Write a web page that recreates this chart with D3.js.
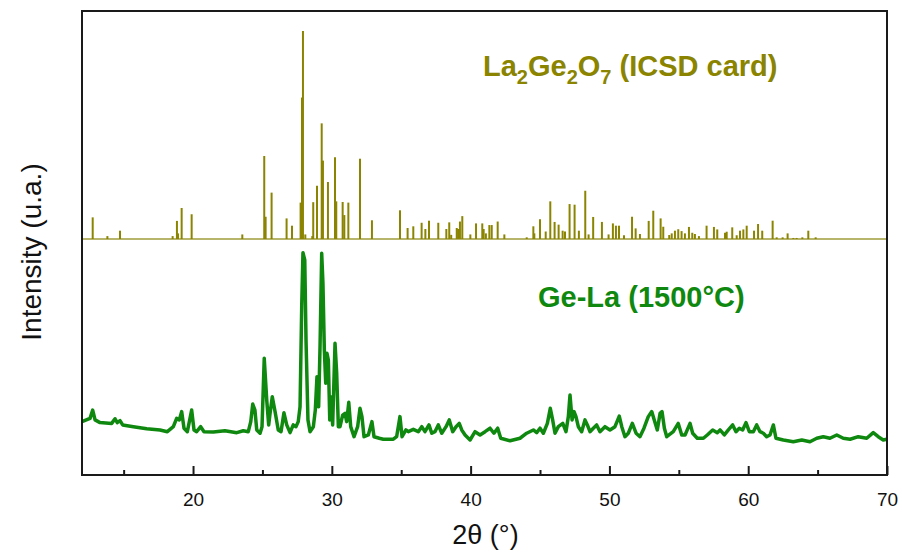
<!DOCTYPE html>
<html>
<head>
<meta charset="utf-8">
<script src="https://cdn.jsdelivr.net/npm/d3@7"></script>
<style>
  html, body { margin: 0; padding: 0; background: #fff; }
  svg { display: block; }
  text { font-family: "Liberation Sans", Arial, sans-serif; }
</style>
</head>
<body>
<svg id="chart" width="902" height="554"></svg>
<script>
// ---- Reference card (La2Ge2O7, ICSD) : 2θ positions and relative intensities (%)
const cardTheta = [12.77, 13.83, 14.74, 18.53, 18.84, 18.92, 19.18, 19.90, 23.55, 25.13, 25.23, 25.66, 26.74, 27.13, 27.75, 27.85, 27.92, 28.09, 28.59, 28.66, 28.93, 29.27, 29.36, 29.72, 30.23, 30.32, 30.78, 30.90, 31.19, 32.03, 32.89,
  34.91, 35.46, 35.87, 36.47, 36.74, 37.00, 37.67, 38.25, 38.46, 38.60, 39.00, 39.10, 39.23, 39.40, 39.98, 40.39, 40.84, 40.94, 41.10, 41.35, 41.52, 41.95, 42.43,
  44.04, 44.52, 44.59, 45.00, 45.41, 45.74, 46.05, 46.34, 46.63, 46.80, 47.13, 47.49, 47.80, 48.26, 48.50, 48.83, 49.46, 49.94, 50.25, 50.47, 50.69,
  51.05, 51.63, 51.89, 52.20, 52.83, 53.16, 53.69, 53.88, 54.31, 54.49, 54.72, 54.96, 55.20, 55.44, 55.73, 55.97, 56.16, 56.45, 57.00, 57.53, 57.77,
  58.33, 58.45, 58.85, 59.17, 59.41, 59.65, 59.89, 60.42, 60.71, 61.01, 61.76, 62.05, 62.48, 62.84, 63.25, 63.49, 63.90, 64.33, 64.86];
const cardInt = [10.4, 1.4, 4.0, 1.4, 8.7, 2.7, 14.9, 11.9, 2.2, 39.9, 10.7, 22.3, 9.9, 6.4, 17.5, 68.0, 100, 2.2, 1.4, 17.7, 25.6, 55.6, 37.7, 27.4, 39.3, 18.1, 17.8, 11.5, 17.5, 38.6, 9.0,
  13.8, 5.3, 6.1, 7.8, 4.8, 8.8, 7.8, 4.8, 8.0, 2.0, 5.3, 4.8, 8.4, 11.0, 2.2, 7.5, 7.5, 4.8, 2.7, 6.7, 6.7, 8.4, 2.2,
  0.8, 6.1, 2.7, 9.5, 3.6, 18.1, 8.2, 6.9, 4.0, 3.6, 16.8, 16.5, 4.0, 23.2, 2.2, 10.6, 8.2, 2.2, 7.5, 6.4, 6.4,
  1.8, 10.7, 5.1, 2.4, 8.7, 13.6, 9.9, 5.9, 1.9, 2.7, 4.0, 4.7, 3.8, 2.7, 5.8, 3.0, 2.4, 1.4, 6.4, 5.8, 4.6,
  3.0, 3.5, 5.6, 1.8, 4.0, 4.6, 6.4, 4.0, 7.2, 4.0, 8.8, 0.8, 0.8, 2.7, 0.5, 0.5, 0.8, 4.0, 0.8];

// ---- Measured pattern Ge-La (1500°C) : 2θ and intensity (a.u.)
const expTheta = [12.00, 12.58, 12.77, 12.94, 13.30, 14.14, 14.38, 14.54, 14.74, 14.93, 15.70, 16.66, 17.62, 18.15, 18.58, 18.82, 19.01, 19.18, 19.35, 19.59,
  19.90, 20.07, 20.26, 20.55, 20.79, 21.46, 22.30, 23.15, 23.62, 23.98, 24.16, 24.30, 24.46, 24.59, 24.83, 24.97, 25.13, 25.31, 25.45, 25.55,
  25.71, 25.91, 26.14, 26.34, 26.55, 26.75, 26.99, 27.22, 27.42, 27.58, 27.71, 27.83, 27.92, 28.05, 28.14, 28.28, 28.43, 28.67, 28.81, 28.93,
  29.05, 29.15, 29.27, 29.36, 29.46, 29.56, 29.65, 29.75, 29.85, 29.92, 30.06, 30.23, 30.35, 30.47, 30.59, 30.78, 30.95, 31.07, 31.22, 31.36,
  31.60, 31.86, 32.03, 32.17, 32.32, 32.63, 32.89, 33.04, 33.42, 33.71, 34.43, 34.67, 34.91, 35.06, 35.34, 35.51, 35.87, 36.23, 36.48, 36.71,
  37.00, 37.20, 37.43, 37.67, 37.92, 38.23, 38.46, 38.71, 38.95, 39.18, 39.36, 39.60, 39.96, 40.32, 40.68, 41.04, 41.40, 41.68, 41.95, 42.17,
  42.84, 43.56, 44.04, 44.52, 44.76, 45.00, 45.24, 45.53, 45.74, 45.91, 46.08, 46.32, 46.64, 46.87, 47.04, 47.16, 47.31, 47.45, 47.59, 47.76,
  48.00, 48.24, 48.41, 48.60, 48.84, 49.08, 49.32, 49.68, 50.04, 50.40, 50.71, 50.89, 51.12, 51.36, 51.65, 51.92, 52.20, 52.49, 52.80, 53.05,
  53.23, 53.45, 53.65, 53.79, 53.96, 54.13, 54.60, 54.96, 55.21, 55.45, 55.81, 56.00, 56.33, 56.77, 57.05, 57.44, 57.77, 57.97, 58.28, 58.57,
  58.88, 59.12, 59.36, 59.60, 59.84, 60.08, 60.37, 60.61, 60.85, 61.09, 61.33, 61.57, 61.81, 62.00, 62.53, 63.25, 63.86, 64.45, 64.94, 65.41,
  65.89, 66.38, 66.85, 67.34, 67.93, 68.54, 69.01, 69.37, 69.73, 69.98];
const expInt = [12.1, 13.8, 18.1, 13.0, 11.6, 11.2, 13.6, 11.6, 12.6, 10.4, 9.5, 8.4, 7.8, 6.9, 9.5, 13.8, 13.0, 17.3, 8.7, 6.9,
  18.1, 7.8, 6.9, 9.5, 6.9, 6.7, 7.4, 6.4, 7.4, 6.9, 12.1, 21.2, 18.1, 7.8, 6.1, 9.5, 44.9, 23.3, 10.4, 16.4,
  25.0, 17.3, 7.8, 6.9, 16.7, 10.4, 6.4, 10.4, 9.5, 12.1, 19.8, 71.7, 99.6, 95.9, 54.4, 13.0, 6.9, 9.5, 18.1, 35.4,
  19.8, 50.9, 99.3, 83.8, 49.2, 32.0, 47.5, 44.0, 13.0, 25.0, 10.4, 52.7, 37.2, 9.5, 9.5, 15.5, 16.4, 12.1, 22.1, 9.5,
  4.3, 9.5, 19.0, 14.7, 4.3, 5.2, 12.1, 4.3, 3.5, 3.0, 3.0, 4.3, 14.7, 4.3, 7.8, 6.9, 8.1, 6.9, 9.5, 6.9,
  10.4, 6.1, 6.9, 10.4, 6.1, 9.5, 13.0, 6.9, 9.5, 11.2, 7.8, 5.2, 2.6, 6.9, 5.2, 6.9, 8.7, 6.1, 8.7, 3.5,
  2.2, 3.5, 6.1, 7.8, 6.4, 8.7, 6.1, 11.2, 19.0, 13.0, 6.1, 9.5, 11.2, 6.9, 14.7, 25.9, 13.0, 17.3, 14.7, 9.5,
  6.9, 13.0, 10.4, 6.9, 8.7, 10.4, 6.9, 9.5, 7.8, 9.5, 15.0, 9.5, 4.3, 6.1, 11.2, 6.1, 4.3, 8.7, 14.7, 17.3,
  13.0, 7.8, 16.4, 17.3, 8.7, 4.3, 6.9, 11.2, 5.2, 5.2, 11.2, 6.1, 3.5, 3.5, 5.2, 7.8, 6.4, 7.8, 5.2, 7.8,
  10.4, 6.9, 8.7, 7.8, 11.6, 6.9, 6.9, 10.4, 6.9, 6.1, 4.3, 5.2, 10.4, 3.5, 2.6, 1.7, 2.6, 1.7, 3.5, 4.3,
  3.5, 5.2, 3.5, 3.0, 4.3, 3.5, 6.4, 4.3, 2.6, 3.0];

const xMajorTicks = [20, 30, 40, 50, 60, 70];
const xMinorTicks = [15, 25, 35, 45, 55, 65];
const xDomain = [12, 70];
const cardLabel = ["La", "2", "Ge", "2", "O", "7", " (ICSD card)"];
const expLabel = "Ge-La (1500°C)";
const xTitle = "2θ (°)";
const yTitle = "Intensity (u.a.)";

// ---- Layout
const L = 82, R = 887, T = 11, B = 475;
const svg = d3.select("#chart");

const x = d3.scaleLinear().domain(xDomain).range([L, R]);
const yCard = d3.scaleLinear().domain([0, 100]).range([239, 31]);
const yExp = d3.scaleLinear().domain([0, 100]).range([445, 252]);

const olive = "#8a8400";
const green = "#0f880f";

// card baseline
svg.append("line")
  .attr("x1", L).attr("x2", R)
  .attr("y1", yCard(0)).attr("y2", yCard(0))
  .attr("stroke", "#b7b46c").attr("stroke-width", 2);

// card sticks
svg.append("g").selectAll("line")
  .data(cardTheta.map((t, i) => ({ t, v: cardInt[i] })))
  .join("line")
  .attr("x1", d => x(d.t)).attr("x2", d => x(d.t))
  .attr("y1", yCard(0)).attr("y2", d => yCard(d.v))
  .attr("stroke", olive).attr("stroke-width", 2);

// experimental line
const line = d3.line().x(d => x(d.t)).y(d => yExp(d.v));
svg.append("path")
  .datum(expTheta.map((t, i) => ({ t, v: expInt[i] })))
  .attr("d", line)
  .attr("fill", "none")
  .attr("stroke", green)
  .attr("stroke-width", 3.5)
  .attr("stroke-linejoin", "round");

// frame
svg.append("rect")
  .attr("x", L).attr("y", T).attr("width", R - L).attr("height", B - T)
  .attr("fill", "none").attr("stroke", "#1a1a1a").attr("stroke-width", 2);

// x axis ticks (inward)
const xAxis = d3.axisBottom(x).tickValues(xMajorTicks).tickSize(-9).tickPadding(18).tickFormat(d3.format("d"));
const gx = svg.append("g").attr("transform", `translate(0,${B})`).call(xAxis);
gx.select(".domain").remove();
gx.selectAll(".tick line").attr("stroke", "#1a1a1a").attr("stroke-width", 2);
gx.selectAll(".tick text").attr("font-size", 19).attr("fill", "#111")
  .attr("font-family", "'Liberation Sans', Arial, sans-serif");

const xAxisMinor = d3.axisBottom(x).tickValues(xMinorTicks).tickSize(-5).tickFormat("");
const gm = svg.append("g").attr("transform", `translate(0,${B})`).call(xAxisMinor);
gm.select(".domain").remove();
gm.selectAll(".tick line").attr("stroke", "#1a1a1a").attr("stroke-width", 2);

// axis titles
svg.append("text")
  .attr("x", (L + R) / 2 + 1).attr("y", 544)
  .attr("text-anchor", "middle").attr("font-size", 27).attr("fill", "#111")
  .text(xTitle);

svg.append("text")
  .attr("transform", "translate(41,252) rotate(-90)")
  .attr("text-anchor", "middle").attr("font-size", 28).attr("fill", "#111")
  .text(yTitle);

// series labels
const ct = svg.append("text")
  .attr("x", 483).attr("y", 76)
  .attr("font-size", 29).attr("font-weight", "bold").attr("fill", olive);
cardLabel.forEach((s, i) => {
  const sub = i % 2 === 1 && i < 6;
  ct.append("tspan")
    .attr("font-size", sub ? 20 : 29)
    .attr("dy", sub ? 8 : (i > 0 ? -8 : 0))
    .text(s);
});

svg.append("text")
  .attr("x", 538).attr("y", 307)
  .attr("font-size", 29).attr("font-weight", "bold").attr("fill", green)
  .text(expLabel);
</script>
</body>
</html>
